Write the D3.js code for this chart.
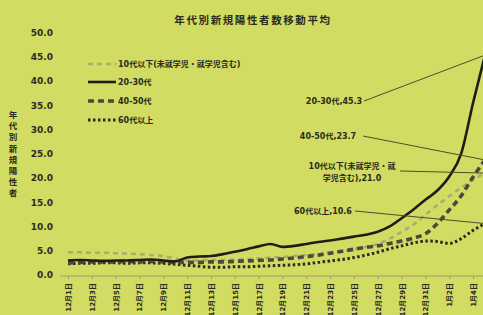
<!DOCTYPE html>
<html>
<head>
<meta charset="utf-8">
<script src="https://cdn.jsdelivr.net/npm/d3@7"></script>
<style>
  body { margin: 0; background: #d2dc62; }
  svg { display: block; }
  text { font-family: "DejaVu Sans", "Noto Sans CJK JP", sans-serif; font-weight: bold; fill: #2b2b20; }
</style>
</head>
<body>
<script>
// dates 12/1 .. 1/5 (every day)
const dates = [
  '12月1日','12月2日','12月3日','12月4日','12月5日','12月6日','12月7日','12月8日','12月9日','12月10日',
  '12月11日','12月12日','12月13日','12月14日','12月15日','12月16日','12月17日','12月18日','12月19日','12月20日',
  '12月21日','12月22日','12月23日','12月24日','12月25日','12月26日','12月27日','12月28日','12月29日','12月30日',
  '12月31日','1月1日','1月2日','1月3日','1月4日','1月5日'
];

const teens = [4.7,4.7,4.6,4.6,4.5,4.4,4.3,4.1,3.9,3.4,3.0,3.0,3.1,3.1,3.2,3.3,3.4,3.6,3.7,3.9,
  4.1,4.3,4.6,4.9,5.3,5.8,6.4,7.5,8.9,10.4,12.4,14.4,16.2,18.0,19.6,21.0];
const age2030 = [3.0,3.1,3.0,2.9,3.0,3.0,3.1,3.2,3.0,2.8,3.6,3.8,3.9,4.3,4.8,5.3,5.9,6.4,5.8,6.0,
  6.4,6.8,7.1,7.5,7.9,8.3,8.9,10.0,11.7,13.5,15.5,17.4,20.3,25.0,35.5,45.3];
const age4050 = [2.5,2.6,2.7,2.7,2.7,2.8,2.7,2.8,2.7,2.6,2.6,2.6,2.7,2.7,2.8,2.9,3.0,3.1,3.3,3.5,
  3.8,4.1,4.5,4.9,5.3,5.7,6.0,6.5,7.0,7.6,8.5,10.6,13.4,16.3,20.2,23.7];
const age60 = [2.3,2.4,2.4,2.5,2.5,2.4,2.5,2.5,2.4,2.2,2.0,1.8,1.6,1.6,1.7,1.7,1.8,1.9,2.0,2.1,
  2.3,2.6,2.9,3.2,3.6,4.1,4.7,5.4,6.0,6.6,7.0,6.9,6.5,7.5,9.2,10.6];

const yTicks = [0,5,10,15,20,25,30,35,40,45,50];
const xTickLabels = dates.filter((d, i) => i % 2 === 0 && i < 35);

const legendNames = ['10代以下(未就学児・就学児含む)', '20-30代', '40-50代', '60代以上'];
const endLabels = [
  ['10代以下(未就学児・就', '学児含む),21.0'],
  ['20-30代,45.3'],
  ['40-50代,23.7'],
  ['60代以上,10.6']
];

const W = 483, H = 315;

const svg = d3.select('body').append('svg')
  .attr('width', W)
  .attr('height', H);

svg.append('rect').attr('width', W).attr('height', H).attr('fill', '#d2dc62');

const x = d3.scalePoint().domain(dates).range([68, 485]);
const y = d3.scaleLinear().domain([0, 50]).range([275, 32.3]);

// title
svg.append('text')
  .attr('x', 253).attr('y', 24)
  .attr('text-anchor', 'middle')
  .style('font-size', '10.5px')
  .style('letter-spacing', '1.6px')
  .text('年代別新規陽性者数移動平均');

// y axis
const yAxis = d3.axisLeft(y).tickValues(yTicks).tickFormat(d3.format('.1f')).tickSize(0).tickPadding(2);
const gy = svg.append('g').attr('transform', 'translate(55,0)').call(yAxis);
gy.select('.domain').remove();
gy.selectAll('text').style('font-size', '9px').attr('fill', '#2b2b20');

// y title, stacked characters
const yt = svg.append('text').attr('x', 13).attr('y', 118)
  .attr('text-anchor', 'middle').style('font-size', '8.5px');
Array.from('年代別新規陽性者').forEach((c, i) => {
  yt.append('tspan').attr('x', 13).attr('dy', i === 0 ? 0 : 11.2).text(c);
});

// x axis
const xAxis = d3.axisBottom(x).tickValues(xTickLabels).tickSize(3).tickSizeOuter(0);
const gx = svg.append('g').attr('transform', 'translate(0,276)').call(xAxis);
gx.select('.domain').remove();
gx.selectAll('.tick line').attr('stroke', '#9a9d6a');
gx.selectAll('text')
  .style('font-size', '7px')
  .attr('fill', '#3a3a2a')
  .attr('transform', 'rotate(-90)')
  .attr('text-anchor', 'end')
  .attr('x', -7)
  .attr('y', 0)
  .attr('dy', '0.35em');
svg.append('line')
  .attr('x1', 60).attr('x2', W).attr('y1', 276).attr('y2', 276)
  .attr('stroke', '#9a9d6a').attr('stroke-width', 1);

// series
const styles = [
  { data: teens,   stroke: '#a7ac72', width: 2.5, dash: '5,4' },
  { data: age2030, stroke: '#1e1e18', width: 2.6, dash: null },
  { data: age4050, stroke: '#4a4a3a', width: 3.6, dash: '6,4' },
  { data: age60,   stroke: '#2a2a20', width: 3,   dash: '2.5,2.5' }
];

const line = d3.line()
  .x((d, i) => x(dates[i]))
  .y(d => y(d))
  .curve(d3.curveMonotoneX);

const drawOrder = [0, 3, 2, 1];
drawOrder.forEach(k => {
  const s = styles[k];
  svg.append('path')
    .datum(s.data)
    .attr('fill', 'none')
    .attr('stroke', s.stroke)
    .attr('stroke-width', s.width)
    .attr('stroke-dasharray', s.dash)
    .attr('d', line);
});

// legend
const legendY = [64, 82, 101, 120];
const lg = svg.append('g');
styles.forEach((s, i) => {
  lg.append('line')
    .attr('x1', 88).attr('x2', 116)
    .attr('y1', legendY[i]).attr('y2', legendY[i])
    .attr('stroke', s.stroke)
    .attr('stroke-width', s.width)
    .attr('stroke-dasharray', s.dash);
  lg.append('text')
    .attr('x', 118).attr('y', legendY[i])
    .attr('dy', '0.35em')
    .style('font-size', '8px')
    .text(legendNames[i]);
});

// end labels with leader lines
const lastDate = dates[dates.length - 1];
const labelPos = [
  { x: 352, y: 166, lx: 400, ly: 171 },
  { x: 334, y: 101, lx: 364, ly: 101 },
  { x: 328, y: 136, lx: 363, ly: 136 },
  { x: 323, y: 211, lx: 355, ly: 211 }
];
const seriesLast = [teens, age2030, age4050, age60].map(a => a[a.length - 1]);

labelPos.forEach((p, i) => {
  svg.append('line')
    .attr('x1', p.lx).attr('y1', p.ly)
    .attr('x2', x(lastDate)).attr('y2', y(seriesLast[i]))
    .attr('stroke', '#4b4d30').attr('stroke-width', 1);
  const t = svg.append('text')
    .attr('x', p.x).attr('y', p.y)
    .attr('dy', '0.35em')
    .attr('text-anchor', 'middle')
    .style('font-size', '8px');
  endLabels[i].forEach((str, j) => {
    t.append('tspan').attr('x', p.x).attr('dy', j === 0 ? '0.35em' : '1.5em').text(str);
  });
});
</script>
</body>
</html>
